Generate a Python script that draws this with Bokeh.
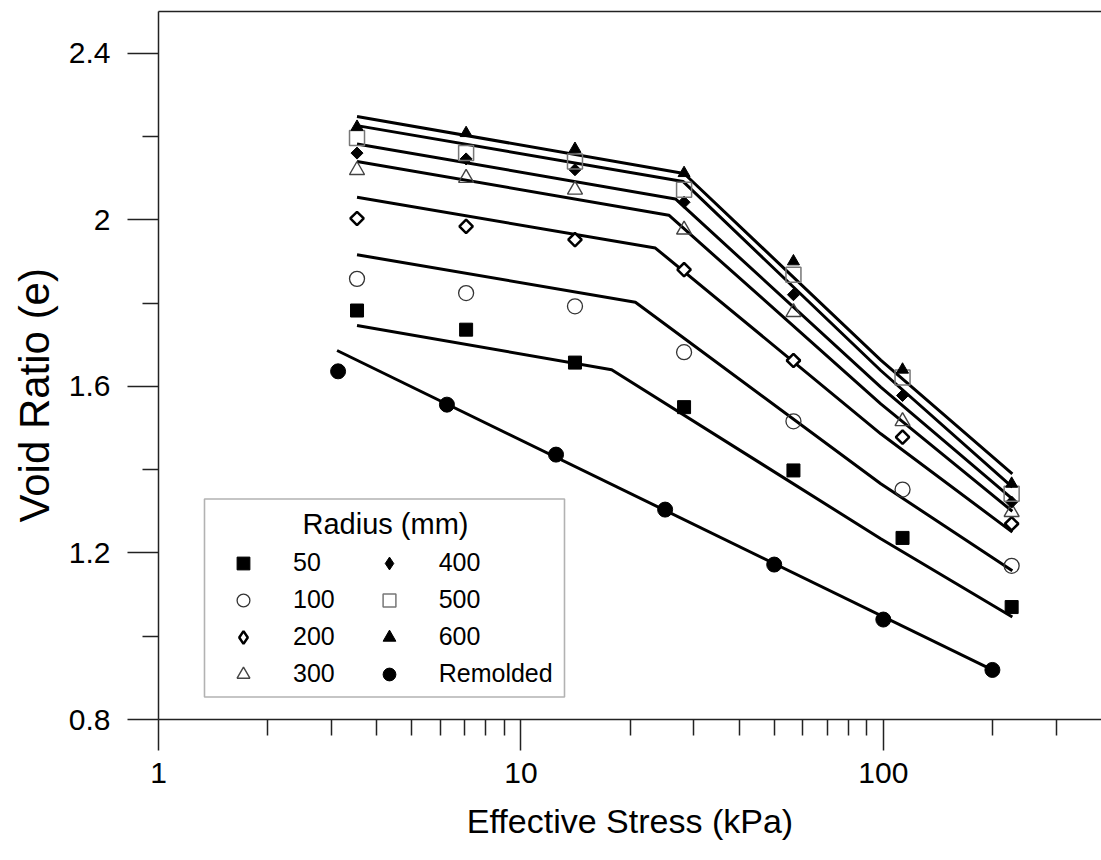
import numpy as np
from bokeh.plotting import figure
from bokeh.models import (FixedTicker, LogAxis, CustomJSTickFormatter, Legend, LegendItem,
                          BoxAnnotation, Label, Range1d, Title)
from bokeh.embed import file_html
from bokeh.resources import INLINE

# ---- data ----
stress = [3.53, 7.06, 14.1, 28.2, 56.5, 113, 226]
remolded_stress = [3.13, 6.25, 12.5, 25, 50, 100, 200]

e_50 = [1.782, 1.736, 1.657, 1.550, 1.398, 1.236, 1.070]
e_100 = [1.858, 1.824, 1.792, 1.682, 1.516, 1.352, 1.169]
e_200 = [2.003, 1.984, 1.952, 1.880, 1.662, 1.478, 1.270]
e_300 = [2.119, 2.100, 2.072, 1.976, 1.778, 1.516, 1.298]
e_400 = [2.160, 2.146, 2.120, 2.042, 1.820, 1.578, 1.322]
e_500 = [2.196, 2.160, 2.140, 2.072, 1.868, 1.621, 1.342]
e_600 = [2.223, 2.208, 2.170, 2.112, 1.900, 1.640, 1.366]
e_remolded = [1.636, 1.556, 1.436, 1.304, 1.172, 1.040, 0.919]

# fitted bilinear curves
fit_50_x = [3.53, 17.8, 98.4, 227]
fit_50_y = [1.746, 1.640, 1.234, 1.046]
fit_100_x = [3.53, 20.7, 98.4, 227]
fit_100_y = [1.916, 1.802, 1.366, 1.157]
fit_200_x = [3.53, 23.5, 98.4, 227]
fit_200_y = [2.054, 1.932, 1.486, 1.250]
fit_300_x = [3.53, 25.6, 98.4, 227]
fit_300_y = [2.140, 2.011, 1.558, 1.300]
fit_400_x = [3.53, 26.7, 98.4, 227]
fit_400_y = [2.182, 2.050, 1.598, 1.330]
fit_500_x = [3.53, 28.0, 98.4, 227]
fit_500_y = [2.226, 2.092, 1.638, 1.358]
fit_600_x = [3.53, 28.2, 98.4, 227]
fit_600_y = [2.248, 2.111, 1.663, 1.390]
fit_rem_x = [3.11, 200]
fit_rem_y = [1.686, 0.919]

x_major = [1, 10, 100]
x_minor = [2, 3, 4, 5, 6, 7, 8, 9, 20, 30, 40, 50, 60, 70, 80, 90, 200, 300]
y_major = [0.8, 1.2, 1.6, 2.0, 2.4]
y_minor = [1.0, 1.4, 1.8, 2.2]

FONT = "Liberation Sans"
AX = "#222222"

p = figure(width=1101, height=860, x_axis_type="log",
           x_range=Range1d(1, 400), y_range=Range1d(0.8, 2.5),
           output_backend="svg", toolbar_location=None,
           min_border_left=158, min_border_right=0, min_border_top=11, min_border_bottom=141)
p.grid.visible = False
p.outline_line_color = None

xa = p.xaxis[0]
xa.ticker = FixedTicker(ticks=x_major, minor_ticks=x_minor)
xa.formatter = CustomJSTickFormatter(code="return tick.toString()")
xa.axis_label = "Effective Stress (kPa)"
xa.major_label_standoff = 12
xa.axis_label_standoff = 16

ya = p.yaxis[0]
ya.ticker = FixedTicker(ticks=y_major, minor_ticks=y_minor)
ya.formatter = CustomJSTickFormatter(code="return tick.toString()")
ya.major_label_standoff = 17

for ax in (xa, ya):
    ax.axis_line_color = AX
    ax.axis_line_width = 1.5
    ax.major_tick_line_color = AX
    ax.major_tick_line_width = 1.5
    ax.minor_tick_line_color = AX
    ax.minor_tick_line_width = 1.5
    ax.major_tick_out = 31
    ax.major_tick_in = 0
    ax.minor_tick_out = 16
    ax.minor_tick_in = 0
    ax.major_label_text_font = FONT
    ax.major_label_text_font_size = "30px"
    ax.major_label_text_color = "black"
    ax.axis_label_text_font = FONT
    ax.axis_label_text_font_size = "34px"
    ax.axis_label_text_font_style = "normal"
    ax.axis_label_text_color = "black"

top = LogAxis(ticker=FixedTicker(ticks=[]), axis_line_color=AX, axis_line_width=1.5,
              major_tick_out=0, major_tick_in=0, minor_tick_out=0, minor_tick_in=0,
              major_label_text_font_size="0px", major_label_standoff=0)
p.add_layout(top, "above")

# y-axis title as a side title (allows shifting along the axis)
p.add_layout(Title(text="Void Ratio (e)", align="left", offset=197, standoff=15,
                   text_font=FONT, text_font_size="42px", text_font_style="normal",
                   text_color="black"), "left")

# fitted lines
for fx, fy in [(fit_50_x, fit_50_y), (fit_100_x, fit_100_y), (fit_200_x, fit_200_y),
               (fit_300_x, fit_300_y), (fit_400_x, fit_400_y), (fit_500_x, fit_500_y),
               (fit_600_x, fit_600_y), (fit_rem_x, fit_rem_y)]:
    p.line(fx, fy, line_width=3, line_color="black")

# diamond-shaped swatches (hidden under the rotated squares; used for the legend)
l200 = p.scatter(stress, e_200, marker="diamond", size=10, fill_color="white",
                 line_color="black", line_width=2.5)
l400 = p.scatter(stress, e_400, marker="diamond", size=9, fill_color="black", line_color="black")

# markers
r50 = p.scatter(stress, e_50, marker="square", size=13, fill_color="black", line_color="black")
r100 = p.scatter(stress, e_100, marker="circle", size=15, fill_color=None, line_color="#333333", line_width=1.3)
r200 = p.scatter(stress, e_200, marker="square", angle=np.pi / 4, size=9.5, fill_color="white",
                 line_color="black", line_width=2.5)
r300 = p.scatter(stress, e_300, marker="triangle", size=15, fill_color=None, line_color="#444444", line_width=1.4)
r400 = p.scatter(stress, e_400, marker="square", angle=np.pi / 4, size=8.5, fill_color="black", line_color="black")
r500 = p.scatter(stress, e_500, marker="square", size=15, fill_color=None, line_color="#777777", line_width=1.5)
r600 = p.scatter(stress, e_600, marker="triangle", size=12, fill_color="black", line_color="black")
rrem = p.scatter(remolded_stress, e_remolded, marker="circle", size=15, fill_color="black", line_color="black")

# legend box + title
box = BoxAnnotation(left=46, right=406, bottom=22.5, top=220.5,
                    left_units="screen", right_units="screen", top_units="screen", bottom_units="screen",
                    fill_color="white", fill_alpha=1.0, line_color="black", line_width=1.6)
p.add_layout(box)
p.add_layout(Label(x=227, y=195.5, x_units="screen", y_units="screen", text="Radius (mm)",
                   text_align="center", text_baseline="middle", text_font=FONT,
                   text_font_size="29px", text_color="black"))

legend = Legend(items=[
    LegendItem(label="50", renderers=[r50]),
    LegendItem(label="100", renderers=[r100]),
    LegendItem(label="200", renderers=[l200]),
    LegendItem(label="300", renderers=[r300]),
    LegendItem(label="400", renderers=[l400]),
    LegendItem(label="500", renderers=[r500]),
    LegendItem(label="600", renderers=[r600]),
    LegendItem(label="Remolded", renderers=[rrem]),
], location=(36, 29.5), nrows=4, glyph_width=98, glyph_height=32, label_standoff=1, spacing=5,
   padding=0, margin=0, border_line_color=None, background_fill_alpha=0,
   label_text_font=FONT, label_text_font_size="25px", label_text_color="black")
p.add_layout(legend)

open("out.html", "w").write(file_html(p, INLINE))
